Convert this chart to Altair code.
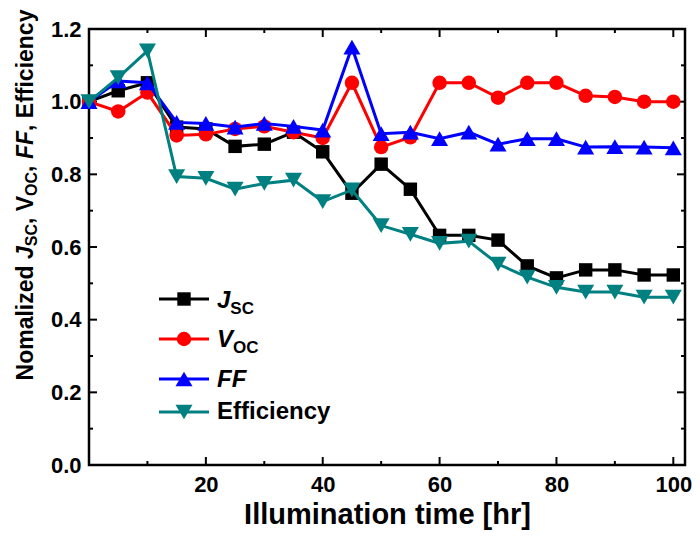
import altair as alt
import pandas as pd

FONT = "Liberation Sans"

# ---------------- data ----------------
hours = [0, 5, 10, 15, 20, 25, 30, 35, 40, 45, 50, 55, 60, 65, 70, 75, 80, 85, 90, 95, 100]
jsc = [1.0, 1.03, 1.052, 0.93, 0.925, 0.877, 0.883, 0.916, 0.862, 0.748, 0.828,
       0.759, 0.632, 0.632, 0.619, 0.548, 0.515, 0.537, 0.537, 0.523, 0.523]
voc = [1.0, 0.973, 1.025, 0.907, 0.91, 0.925, 0.932, 0.916, 0.90, 1.052, 0.875,
       0.902, 1.052, 1.052, 1.011, 1.052, 1.052, 1.016, 1.013, 1.0, 1.0]
ff = [1.0, 1.057, 1.052, 0.943, 0.94, 0.93, 0.94, 0.932, 0.922, 1.15, 0.912,
      0.916, 0.898, 0.916, 0.883, 0.898, 0.898, 0.875, 0.876, 0.875, 0.873]
eff = [1.0, 1.066, 1.14, 0.794, 0.789, 0.759, 0.775, 0.784, 0.725, 0.757, 0.659,
       0.635, 0.61, 0.616, 0.553, 0.517, 0.489, 0.476, 0.476, 0.462, 0.462]

x_major = [20, 40, 60, 80, 100]
x_minor = [10, 30, 50, 70, 90]
y_major = [0.0, 0.2, 0.4, 0.6, 0.8, 1.0, 1.2]
y_minor = [0.1, 0.3, 0.5, 0.7, 0.9, 1.1]

x_title = "Illumination time [hr]"

# ---------------- layout ----------------
W, H = 596, 436
PAD_L = 81
x_scale = alt.Scale(domain=[0, 102], nice=False, zero=False)
y_scale = alt.Scale(domain=[0, 1.2], nice=False, zero=False)

x_axis = alt.Axis(values=x_major, title=x_title, labelFontSize=22, labelFontWeight="bold",
                  labelFont=FONT, labelColor="black", labelPadding=9, labelFlush=False,
                  ticks=False, domain=False, grid=False, titleFontSize=29, titleFont=FONT,
                  titleFontWeight="bold", titleColor="black", titlePadding=5)
y_axis = alt.Axis(values=y_major, format=".1f", title=None, labelFontSize=22,
                  labelFontWeight="bold", labelFont=FONT, labelColor="black", labelPadding=8,
                  ticks=False, domain=False, grid=False)

series = [
    ("Jsc", jsc, "#000000", "square", 180),
    ("Voc", voc, "#ff0000", "circle", 210),
    ("FF", ff, "#0000ff", "triangle-up", 290),
    ("Efficiency", eff, "#008080", "triangle-down", 290),
]

one = pd.DataFrame({"k": [0]})

# inner ticks
tick_layers = []
for vals, ln in ((x_major, 8), (x_minor, 4)):
    d = pd.DataFrame({"hr": vals})
    for y0, y1 in ((H, H - ln), (0, ln)):
        tick_layers.append(
            alt.Chart(d).mark_rule(color="black", strokeWidth=2).encode(
                x=alt.X("hr:Q", scale=x_scale, axis=x_axis),
                y=alt.value(y0), y2=alt.value(y1)))
for vals, ln in ((y_major, 8), (y_minor, 4)):
    d = pd.DataFrame({"value": vals})
    for x0, x1 in ((0, ln), (W, W - ln)):
        tick_layers.append(
            alt.Chart(d).mark_rule(color="black", strokeWidth=2).encode(
                y=alt.Y("value:Q", scale=y_scale, axis=y_axis),
                x=alt.value(x0), x2=alt.value(x1)))

# data series
series_layers = []
for name, vals, color, shape, size in series:
    d = pd.DataFrame({"hr": hours, "value": vals})
    base = alt.Chart(d).encode(
        x=alt.X("hr:Q", scale=x_scale, axis=x_axis),
        y=alt.Y("value:Q", scale=y_scale, axis=y_axis))
    series_layers.append(base.mark_line(color=color, strokeWidth=3))
    series_layers.append(base.mark_point(shape=shape, filled=True, size=size,
                                         color=color, opacity=1))

# text width helper (Arial/Liberation Sans Bold metrics)
CW = {'N': 722, 'o': 611, 'm': 889, 'a': 556, 'l': 278, 'i': 278, 'z': 500, 'e': 556,
      'd': 611, ' ': 278, 'J': 556, 'S': 667, 'C': 722, ',': 278, 'V': 667, 'O': 778,
      'F': 611, 'E': 667, 'f': 333, 'c': 556, 'n': 611, 'y': 556}


def tw(s, size):
    return sum(CW[ch] for ch in s) / 1000.0 * size


def text_layer(txt, size, style, x, y, angle=0):
    kw = dict(text=txt, fontSize=size, fontWeight="bold", fontStyle=style, font=FONT,
              color="black", align="left", baseline="alphabetic")
    if angle:
        kw["angle"] = angle
    return alt.Chart(one).mark_text(**kw).encode(x=alt.value(x), y=alt.value(y))


# legend (plot-relative pixel layout)
dx = 90 - (PAD_L + 8)
legend_layers = []
legend_rows = [
    (0, 270, 279, [("J", 24, "italic", 0), ("SC", 17, "normal", 6)]),
    (1, 310, 318, [("V", 24, "italic", 0), ("OC", 17, "normal", 6)]),
    (2, 350, 358, [("FF", 24, "italic", 0)]),
    (3, 383, 390, [("Efficiency", 24, "normal", 0)]),
]
for idx, my, ty, pieces in legend_rows:
    _, _, color, shape, size = series[idx]
    legend_layers.append(alt.Chart(one).mark_rule(color=color, strokeWidth=3).encode(
        x=alt.value(69 + dx), x2=alt.value(119 + dx), y=alt.value(my)))
    legend_layers.append(alt.Chart(one).mark_point(shape=shape, filled=True, size=size,
                                                   color=color, opacity=1).encode(
        x=alt.value(94 + dx), y=alt.value(my)))
    cx = 127 + dx
    for txt, sz, st, sh in pieces:
        legend_layers.append(text_layer(txt, sz, st, cx, ty + sh))
        cx += tw(txt, sz)

# rotated y title with italics and subscripts
title_pieces = [("Nomalized ", 23, "normal", 0), ("J", 23, "italic", 0), ("SC", 16, "normal", 4),
                (", ", 23, "normal", 0), ("V", 23, "normal", 0), ("OC", 16, "normal", 4),
                (", ", 23, "normal", 0), ("FF", 23, "italic", 0), (", Efficiency", 23, "normal", 0)]
total = sum(tw(t, s) for t, s, _, _ in title_pieces)
cy = 166 + total / 2.0
base_x = -57 + dx
title_layers = []
for txt, sz, st, sh in title_pieces:
    title_layers.append(text_layer(txt.rstrip() if txt.strip() else txt, sz, st,
                                   base_x + sh, cy, angle=270))
    cy -= tw(txt, sz)

chart = alt.layer(*tick_layers, *series_layers, *legend_layers, *title_layers).properties(
    width=W, height=H,
    autosize=alt.AutoSizeParams(type="none"),
    padding={"left": PAD_L, "top": 21, "right": 7, "bottom": 66},
).configure(background="white").configure_view(stroke="black", strokeWidth=2.5)

chart.save("out.html", embed_options={"renderer": "svg", "actions": False})
